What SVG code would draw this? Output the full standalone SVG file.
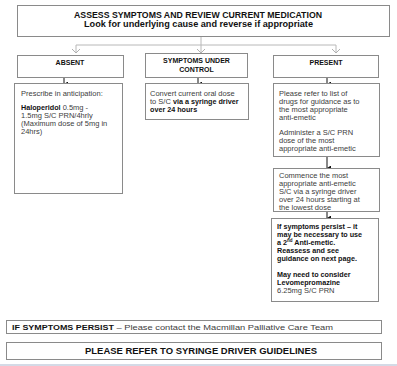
<svg xmlns="http://www.w3.org/2000/svg" width="397" height="366" viewBox="0 0 397 366">
<defs>
<style>
.box{fill:#fff;stroke:#8a8a8a;stroke-width:1}
.t{font-family:"Liberation Sans",Arial,sans-serif;font-size:7.5px;fill:#404040}
.b{font-weight:bold;fill:#111;font-size:7.2px}
.h{font-family:"Liberation Sans",Arial,sans-serif;font-weight:bold;fill:#111;text-anchor:middle}
.lc{stroke:#b8b8b8;stroke-width:1;fill:none}
.dc{stroke:#111;stroke-width:1;fill:none}
</style>
<marker id="solid" viewBox="0 0 10 10" refX="5" refY="10" markerWidth="5" markerHeight="5" orient="auto-start-reverse" markerUnits="userSpaceOnUse">
<path d="M0,2 L10,2 L5,10 Z" fill="#111"/>
</marker>
</defs>
<rect width="397" height="366" fill="#fff"/>

<g id="connectors">
<line class="lc" x1="201" y1="37" x2="201" y2="53"/>
<polyline class="lc" points="76,53 76,45 336,45 336,53"/>
<path d="M72,49 L76,53 L80,49" fill="none" stroke="#b0b0b0" stroke-width="1"/>
<path d="M197,49 L201,53 L205,49" fill="none" stroke="#b0b0b0" stroke-width="1"/>
<path d="M332,49 L336,53 L340,49" fill="none" stroke="#b0b0b0" stroke-width="1"/>
<line class="dc" x1="64" y1="78" x2="64" y2="84" marker-end="url(#solid)"/>
<line class="dc" x1="198" y1="78" x2="198" y2="84" marker-end="url(#solid)"/>
<line class="dc" x1="327" y1="78" x2="327" y2="84" marker-end="url(#solid)"/>
<line class="dc" x1="327" y1="157" x2="327" y2="168" marker-end="url(#solid)"/>
<line class="dc" x1="327" y1="212" x2="327" y2="218" marker-end="url(#solid)"/>
</g>

<g id="assess">
<rect class="box" x="17.5" y="5.5" width="372" height="31"/>
<text class="h" x="198" y="17.5" font-size="8.3" textLength="248" lengthAdjust="spacingAndGlyphs">ASSESS SYMPTOMS AND REVIEW CURRENT MEDICATION</text>
<text class="h" x="198.5" y="27" font-size="8.3" textLength="229" lengthAdjust="spacingAndGlyphs">Look for underlying cause and reverse if appropriate</text>
</g>

<g id="absent">
<rect class="box" x="17.5" y="55.5" width="106" height="22"/>
<text class="h" x="70" y="64.5" font-size="7">ABSENT</text>
</g>

<g id="control">
<rect class="box" x="145.5" y="53.5" width="102" height="24"/>
<text class="h" x="196.5" y="63" font-size="7">SYMPTOMS UNDER</text>
<text class="h" x="196.5" y="71.5" font-size="7">CONTROL</text>
</g>

<g id="present">
<rect class="box" x="273.5" y="55.5" width="105" height="22"/>
<text class="h" x="326" y="64.5" font-size="7">PRESENT</text>
</g>

<g id="absent-action">
<rect class="box" x="14.5" y="83.5" width="108" height="110"/>
<text class="t" x="21" y="95.5">Prescribe in anticipation:</text>
<text class="t" x="21" y="109.5"><tspan class="b">Haloperidol</tspan> 0.5mg -</text>
<text class="t" x="21" y="117.5">1.5mg S/C PRN/4hrly</text>
<text class="t" x="21" y="125.5">(Maximum dose of 5mg in</text>
<text class="t" x="21" y="133.5">24hrs)</text>
</g>

<g id="control-action">
<rect class="box" x="145.5" y="83.5" width="103" height="36"/>
<text class="t" x="150" y="95.5">Convert current oral dose</text>
<text class="t" x="150" y="103.5">to S/C <tspan class="b">via a syringe driver</tspan></text>
<text class="t b" x="150" y="111.5">over 24 hours</text>
</g>

<g id="present-refer">
<rect class="box" x="273.5" y="83.5" width="106" height="73"/>
<text class="t" x="279" y="95.5">Please refer to list of</text>
<text class="t" x="279" y="103.5">drugs for guidance as to</text>
<text class="t" x="279" y="111.5">the most appropriate</text>
<text class="t" x="279" y="119.5">anti-emetic</text>
<text class="t" x="279" y="134.5">Administer a S/C PRN</text>
<text class="t" x="279" y="142.5">dose of the most</text>
<text class="t" x="279" y="150.5">appropriate anti-emetic</text>
</g>

<g id="present-commence">
<rect class="box" x="273.5" y="168.5" width="106" height="43"/>
<text class="t" x="279" y="177.5">Commence the most</text>
<text class="t" x="279" y="185.5">appropriate anti-emetic</text>
<text class="t" x="279" y="193.5">S/C via a syringe driver</text>
<text class="t" x="279" y="201.5">over 24 hours starting at</text>
<text class="t" x="279" y="209.5">the lowest dose</text>
</g>

<g id="present-persist">
<rect class="box" x="271.5" y="218.5" width="107" height="83"/>
<text class="t b" x="277" y="228.5">If symptoms persist – it</text>
<text class="t b" x="277" y="236.5">may be necessary to use</text>
<text class="t b" x="277" y="244.5">a 2<tspan font-size="4.5" dy="-2.5">nd</tspan><tspan dy="2.5"> Anti-emetic.</tspan></text>
<text class="t b" x="277" y="252.5">Reassess and see</text>
<text class="t b" x="277" y="260.5">guidance on next page.</text>
<text class="t b" x="277" y="276.5">May need to consider</text>
<text class="t b" x="277" y="284.5">Levomepromazine</text>
<text class="t" x="277" y="292.5">6.25mg S/C PRN</text>
</g>

<g id="persist-contact">
<rect class="box" x="6.5" y="320.5" width="375" height="13"/>
<text class="t" x="12" y="329.5" textLength="321" lengthAdjust="spacingAndGlyphs"><tspan class="b">IF SYMPTOMS PERSIST</tspan> – Please contact the Macmillan Palliative Care Team</text>
</g>

<g id="refer-guidelines">
<rect class="box" x="6.5" y="342.5" width="375" height="17"/>
<text class="h" x="201" y="354" font-size="8.3" textLength="232" lengthAdjust="spacingAndGlyphs">PLEASE REFER TO SYRINGE DRIVER GUIDELINES</text>
</g>

<rect x="0" y="364" width="397" height="2" fill="#d4dae6"/>
</svg>
